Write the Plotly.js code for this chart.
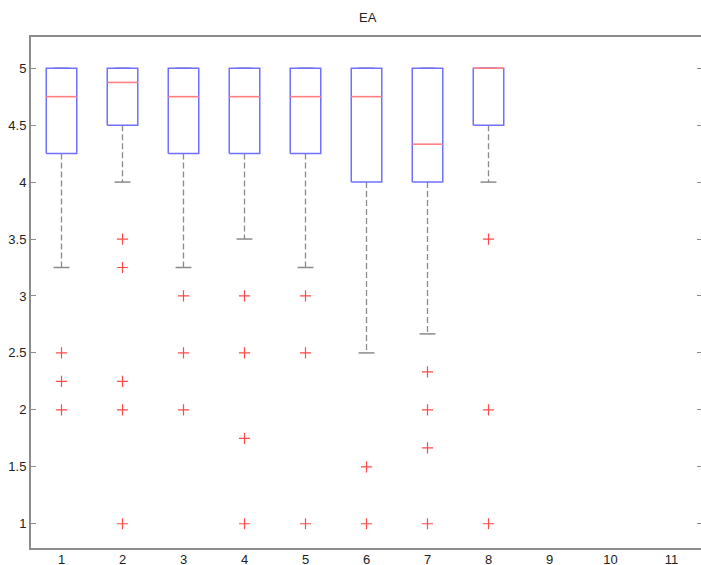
<!DOCTYPE html>
<html>
<head>
<meta charset="utf-8">
<script src="https://cdn.plot.ly/plotly-3.0.1.min.js"></script>
<style>
html,body{margin:0;padding:0;overflow:hidden;background:#fff;width:701px;height:565px;}
#chart{width:703px;height:565px;}
</style>
</head>
<body>
<div id="chart"></div>
<script>
// Group positions / tick labels
var groups = [1,2,3,4,5,6,7,8,9,10,11];
var tickLabels = ['1','2','3','4','5','6','7','8','9','10','11'];
// Box statistics (null = no data for that group)
var q1 =            [4.25, 4.5,   4.25, 4.25, 4.25, 4.0,  4.0,   4.5, null, null, null];
var median =        [4.75, 4.875, 4.75, 4.75, 4.75, 4.75, 4.333, 5.0, null, null, null];
var q3 =            [5.0,  5.0,   5.0,  5.0,  5.0,  5.0,  5.0,   5.0, null, null, null];
var lowerWhisker =  [3.25, 4.0,   3.25, 3.5,  3.25, 2.5,  2.667, 4.0, null, null, null];
var upperWhisker =  [5.0,  5.0,   5.0,  5.0,  5.0,  5.0,  5.0,   5.0, null, null, null];
var outliers = [
  [2.5, 2.25, 2.0],
  [3.5, 3.25, 2.25, 2.0, 1.0],
  [3.0, 2.5, 2.0],
  [3.0, 2.5, 1.75, 1.0],
  [3.0, 2.5, 1.0],
  [1.5, 1.0],
  [2.333, 2.0, 1.667, 1.0],
  [3.5, 2.0, 1.0],
  [], [], []
];
var yTicks = [1,1.5,2,2.5,3,3.5,4,4.5,5];
var yTickLabels = ['1','1.5','2','2.5','3','3.5','4','4.5','5'];

var boxHalf = 0.25, capHalf = 0.13;
var wx=[],wy=[],cx=[],cy=[],bx=[],by=[],mx=[],my=[],ox=[],oy=[];
groups.forEach(function(g,i){
  if(q1[i]===null) return;
  wx.push(g,g,null,g,g,null); wy.push(q1[i],lowerWhisker[i],null,q3[i],upperWhisker[i],null);
  cx.push(g-capHalf,g+capHalf,null,g-capHalf,g+capHalf,null);
  cy.push(lowerWhisker[i],lowerWhisker[i],null,upperWhisker[i],upperWhisker[i],null);
  bx.push(g-boxHalf,g+boxHalf,g+boxHalf,g-boxHalf,g-boxHalf,null);
  by.push(q1[i],q1[i],q3[i],q3[i],q1[i],null);
  mx.push(g-boxHalf,g+boxHalf,null); my.push(median[i],median[i],null);
  outliers[i].forEach(function(v){ox.push(g);oy.push(v);});
});

var traces = [
  {x:wx,y:wy,mode:'lines',line:{color:'#8a8a8a',width:1.3,dash:'6px,3px'},hoverinfo:'skip'},
  {x:cx,y:cy,mode:'lines',line:{color:'#8a8a8a',width:1.5},hoverinfo:'skip'},
  {x:bx,y:by,mode:'lines',line:{color:'#7070ff',width:1.5},hoverinfo:'skip'},
  {x:mx,y:my,mode:'lines',line:{color:'#ff8080',width:1.6},hoverinfo:'skip'},
  {x:ox,y:oy,mode:'markers',marker:{symbol:'cross-thin',size:8,line:{color:'#ff4a4a',width:1.2},color:'#ff4a4a'},hoverinfo:'skip'}
];

var layout = {
  width:703, height:565,
  margin:{l:31,r:1,t:37,b:17},
  paper_bgcolor:'#fff', plot_bgcolor:'#fff',
  showlegend:false,
  font:{family:'Liberation Sans, Arial, sans-serif',size:13,color:'#222'},
  title:{text:'EA',x:0.523,xanchor:'center',y:0.97,yanchor:'middle',yref:'container',font:{size:13,color:'#222'}},
  xaxis:{range:[0.5,11.5],tickvals:groups,ticktext:tickLabels,ticks:'',showgrid:false,zeroline:false,
         showline:true,linecolor:'#8c8c8c',linewidth:2,mirror:true,tickfont:{size:13,color:'#222'},ticklabelstandoff:-2},
  yaxis:{range:[0.787,5.274],tickvals:yTicks,ticktext:yTickLabels,
         ticks:'inside',ticklen:5,tickcolor:'#8c8c8c',tickwidth:1,showgrid:false,zeroline:false,
         showline:true,linecolor:'#8c8c8c',linewidth:2,mirror:'ticks',tickfont:{size:13,color:'#222'}}
};
Plotly.newPlot('chart',traces,layout,{staticPlot:true,displayModeBar:false});
</script>
</body>
</html>
